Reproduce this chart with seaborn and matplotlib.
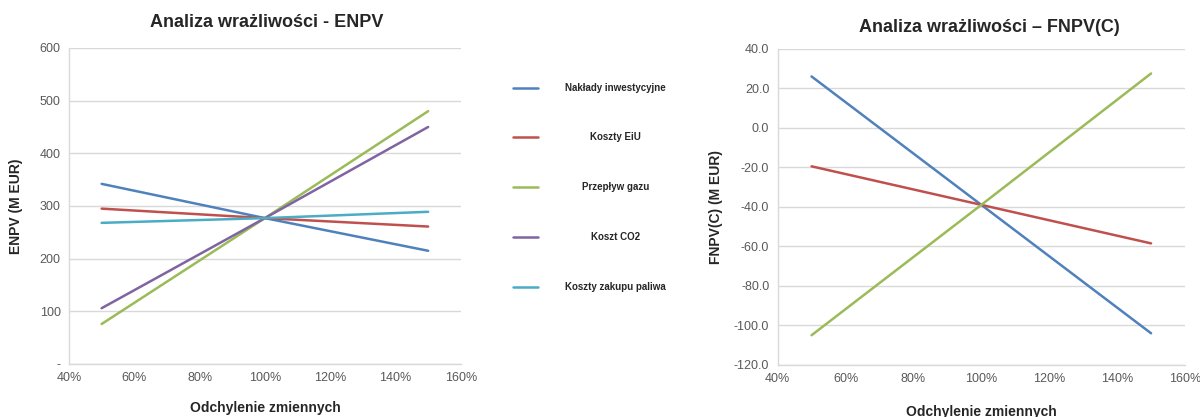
import matplotlib
matplotlib.use("Agg")
import matplotlib.pyplot as plt
import matplotlib.ticker as mticker
import seaborn as sns
import pandas as pd

# Variable deviation levels
deviation = [0.5, 1.0, 1.5]

# ENPV sensitivity (M EUR)
enpv_series = ["Nakłady inwestycyjne", "Koszty EiU", "Przepływ gazu", "Koszt CO2", "Koszty zakupu paliwa"]
enpv_naklady = [342, 277, 215]
enpv_eiu = [295, 277, 261]
enpv_gaz = [76, 277, 480]
enpv_co2 = [106, 277, 450]
enpv_paliwo = [268, 277, 289]

# FNPV(C) sensitivity (M EUR)
fnpv_series = ["Nakłady inwestycyjne", "Koszty EiU", "Przepływ gazu"]
fnpv_naklady = [26.0, -39.0, -104.0]
fnpv_eiu = [-19.5, -39.0, -58.5]
fnpv_gaz = [-105.0, -39.0, 27.5]

colors = {
    "Nakłady inwestycyjne": "#4F81BD",
    "Koszty EiU": "#C0504D",
    "Przepływ gazu": "#9BBB59",
    "Koszt CO2": "#8064A2",
    "Koszty zakupu paliwa": "#4BACC6",
}


def long_frame(names, values):
    rows = []
    for name, vals in zip(names, values):
        for x, y in zip(deviation, vals):
            rows.append({"x": x, "y": y, "series": name})
    return pd.DataFrame(rows)


df_enpv = long_frame(enpv_series, [enpv_naklady, enpv_eiu, enpv_gaz, enpv_co2, enpv_paliwo])
df_fnpv = long_frame(fnpv_series, [fnpv_naklady, fnpv_eiu, fnpv_gaz])

sns.set_theme(style="white")
plt.rcParams["font.family"] = ["Liberation Sans", "DejaVu Sans"]

fig = plt.figure(figsize=(12, 4.17), dpi=100)
ax1 = fig.add_axes([0.0575, 0.127, 0.3265, 0.758])
ax2 = fig.add_axes([0.648, 0.125, 0.3395, 0.758])

sns.lineplot(data=df_enpv, x="x", y="y", hue="series", hue_order=enpv_series,
             palette=colors, linewidth=1.8, ax=ax1, legend=True)
sns.lineplot(data=df_fnpv, x="x", y="y", hue="series", hue_order=fnpv_series,
             palette=colors, linewidth=1.8, ax=ax2, legend=False)

grid_c = "#D9D9D9"
tick_c = "#595959"

for ax in (ax1, ax2):
    ax.set_xlim(0.4, 1.6)
    ax.xaxis.set_major_locator(mticker.MultipleLocator(0.2))
    ax.xaxis.set_major_formatter(mticker.FuncFormatter(lambda v, p: f"{v*100:.0f}%"))
    ax.grid(axis="y", color=grid_c, linewidth=1)
    ax.grid(axis="x", visible=False)
    for side in ("top", "right"):
        ax.spines[side].set_visible(False)
    for side in ("left", "bottom"):
        ax.spines[side].set_color(grid_c)
        ax.spines[side].set_linewidth(1)
    ax.tick_params(axis="both", length=0, labelsize=9, colors=tick_c, pad=6)
    ax.set_axisbelow(True)

ax1.set_ylim(0, 600)
ax1.yaxis.set_major_locator(mticker.MultipleLocator(100))
ax1.yaxis.set_major_formatter(mticker.FuncFormatter(lambda v, p: "-" if v == 0 else f"{v:.0f}"))
ax2.set_ylim(-120, 40)
ax2.yaxis.set_major_locator(mticker.MultipleLocator(20))
ax2.yaxis.set_major_formatter(mticker.FuncFormatter(lambda v, p: f"{v:.1f}"))

ax1.set_title("Analiza wrażliwości - ENPV", fontsize=13, fontweight="bold", pad=15, x=0.505)
ax2.set_title("Analiza wrażliwości – FNPV(C)", fontsize=13, fontweight="bold", pad=12, x=0.52)
ax1.set_xlabel("Odchylenie zmiennych", fontsize=10, fontweight="bold", labelpad=12)
ax2.set_xlabel("Odchylenie zmiennych", fontsize=10, fontweight="bold", labelpad=14)
ax1.set_ylabel("ENPV (M EUR)", fontsize=10, fontweight="bold", labelpad=12)
ax2.set_ylabel("FNPV(C) (M EUR)", fontsize=10, fontweight="bold", labelpad=8)

# Legend keys between the panels; labels are centred in their own column
handles, labels = ax1.get_legend_handles_labels()
ax1.get_legend().remove()
leg = fig.legend(handles, [""] * len(labels), loc="upper left", bbox_to_anchor=(0.42, 0.822),
                 frameon=False, handlelength=2.6, handletextpad=0.5,
                 labelspacing=4.1, prop={"size": 7, "weight": "bold"})
fig.canvas.draw()
inv = fig.transFigure.inverted()
for h, lab in zip(leg.legend_handles, labels):
    bb = h.get_window_extent(fig.canvas.get_renderer())
    _, yc = inv.transform((0, (bb.y0 + bb.y1) / 2))
    fig.text(0.513, yc, lab, ha="center", va="center", fontsize=7, fontweight="bold")

fig.savefig("out.png", dpi=100)
